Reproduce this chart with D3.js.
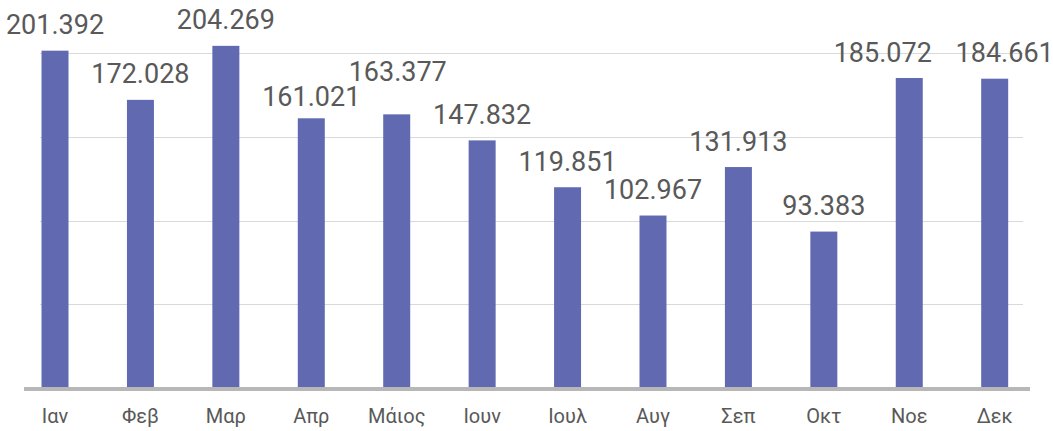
<!DOCTYPE html>
<html>
<head>
<meta charset="utf-8">
<script src="https://cdn.jsdelivr.net/npm/d3@7"></script>
<style>
  html, body { margin: 0; padding: 0; background: #fff; }
  svg { display: block; }
</style>
</head>
<body>
<svg id="chart" width="1053" height="431"></svg>
<script>
const categories = ["Ιαν", "Φεβ", "Μαρ", "Απρ", "Μάιος", "Ιουν", "Ιουλ", "Αυγ", "Σεπ", "Οκτ", "Νοε", "Δεκ"];
const values = [201.392, 172.028, 204.269, 161.021, 163.377, 147.832, 119.851, 102.967, 131.913, 93.383, 185.072, 184.661];
const labels = ["201.392", "172.028", "204.269", "161.021", "163.377", "147.832", "119.851", "102.967", "131.913", "93.383", "185.072", "184.661"];
const gridTicks = [50, 100, 150, 200];

// layout: nudges applied to a few value labels to avoid collisions (as in the reference)
const labelNudge = {
  "Απρ": { dx: 0, dy: 4 },
  "Μάιος": { dx: 1, dy: -17 },
  "Νοε": { dx: -26.5, dy: 0.5 },
  "Δεκ": { dx: 10, dy: -0.2 }
};

const svg = d3.select("#chart");
const baseY = 388;

const x = d3.scaleBand()
  .domain(categories)
  .range([12.3, 1037.4])
  .paddingInner(0.684)
  .paddingOuter(0.342);

const y = d3.scaleLinear().domain([0, 200]).range([baseY, 53]);

// gridlines
svg.append("g").selectAll("line")
  .data(gridTicks)
  .join("line")
  .attr("x1", 40).attr("x2", 1023)
  .attr("y1", d => Math.round(y(d)) + 0.5)
  .attr("y2", d => Math.round(y(d)) + 0.5)
  .attr("stroke", "#d9d9d9")
  .attr("stroke-width", 1);

// bars
svg.append("g").selectAll("rect")
  .data(values)
  .join("rect")
  .attr("x", (d, i) => x(categories[i]))
  .attr("width", x.bandwidth())
  .attr("y", d => y(d))
  .attr("height", d => baseY - y(d))
  .attr("fill", "#616ab1");

// axis line
svg.append("line")
  .attr("x1", 24).attr("x2", 1030)
  .attr("y1", baseY + 1).attr("y2", baseY + 1)
  .attr("stroke", "#b7b7b7")
  .attr("stroke-width", 4);

// value labels
svg.append("g").selectAll("text")
  .data(values)
  .join("text")
  .attr("x", (d, i) => x(categories[i]) + x.bandwidth() / 2 + (labelNudge[categories[i]] ? labelNudge[categories[i]].dx : 0))
  .attr("y", (d, i) => y(d) - 16.5 + (labelNudge[categories[i]] ? labelNudge[categories[i]].dy : 0))
  .attr("text-anchor", "middle")
  .attr("font-family", "Roboto, sans-serif")
  .attr("font-size", 27)
  .attr("fill", "#595959")
  .text((d, i) => labels[i]);

// category labels
svg.append("g").selectAll("text")
  .data(categories)
  .join("text")
  .attr("x", d => x(d) + x.bandwidth() / 2)
  .attr("y", 423)
  .attr("text-anchor", "middle")
  .attr("font-family", "Roboto, sans-serif")
  .attr("font-size", 20)
  .attr("fill", "#595959")
  .text(d => d);
</script>
</body>
</html>
